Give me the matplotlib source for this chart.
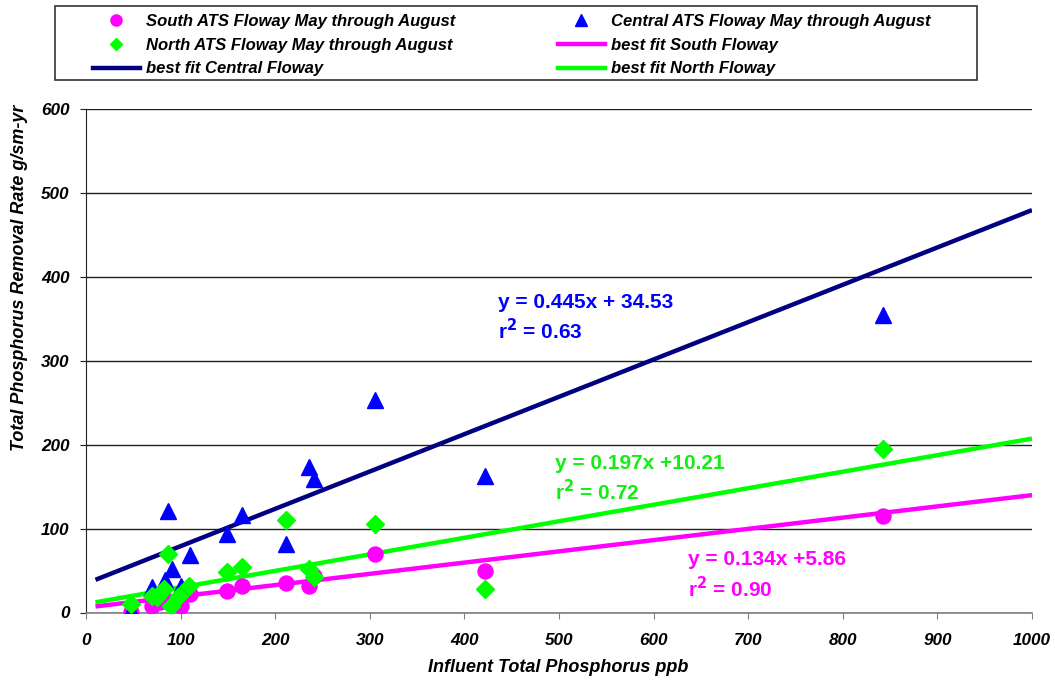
import matplotlib
matplotlib.use("Agg")
import matplotlib.pyplot as plt
from matplotlib.lines import Line2D
from matplotlib.patches import Rectangle
import numpy as np

plt.rcParams['font.family'] = ['Liberation Sans', 'DejaVu Sans']

# influent TP (ppb) vs TP removal rate (g/sm-yr), May through August
south_x = [48, 70, 78, 85, 100, 110, 149, 165, 211, 236, 241, 306, 422, 843]
south_y = [1, 8, 12, 15, 8, 22, 26, 32, 35, 31, 43, 70, 50, 115]

central_x = [48, 70, 83, 87, 91, 100, 110, 149, 165, 211, 236, 241, 306, 422, 843]
central_y = [3, 30, 39, 121, 52, 32, 68, 94, 116, 82, 173, 159, 253, 163, 355]

north_x = [48, 70, 75, 82, 87, 90, 98, 109, 149, 165, 211, 236, 241, 306, 422, 843]
north_y = [10, 20, 19, 28, 70, 8, 20, 32, 48, 54, 110, 52, 42, 106, 28, 195]

# trendlines (slope, intercept, r2)
fits = {
    'south': (0.134, 5.86, 0.90),
    'central': (0.445, 34.53, 0.63),
    'north': (0.197, 10.21, 0.72),
}
fit_range = [10, 1000]

MAG = '#FF00FF'
BLUE = '#0000FF'
GREEN = '#00FF00'
NAVY = '#000080'

W, H = 1055, 684
fig = plt.figure(figsize=(W / 100, H / 100), dpi=100)
ax = fig.add_axes([86 / W, 1 - 612.5 / H, (1032 - 86) / W, (612.5 - 109) / H])

fx = np.array(fit_range, dtype=float)
for key, col in [('south', MAG), ('central', NAVY), ('north', GREEN)]:
    m, b, _ = fits[key]
    ax.plot(fx, m * fx + b, color=col, lw=3.2, solid_capstyle='butt', zorder=3)

ax.plot(south_x, south_y, 'o', ms=10.8, color=MAG, mec=MAG, zorder=4)
ax.plot(central_x, central_y, '^', ms=11, color=BLUE, mec=BLUE, zorder=5)
ax.plot(north_x, north_y, 'D', ms=9.3, color=GREEN, mec=GREEN, zorder=6)

ax.set_xlim(0, 1000)
ax.set_ylim(0, 600)
ax.set_xticks(range(0, 1001, 100))
ax.set_yticks(range(0, 601, 100))
for s in ['top', 'right']:
    ax.spines[s].set_visible(False)
ax.spines['left'].set_color('#222222')
ax.spines['bottom'].set_color('#808080')
ax.spines['bottom'].set_linewidth(1.2)
ax.set_axisbelow(True)
ax.yaxis.grid(True, color='#222222', lw=1.0)
ax.tick_params(axis='x', direction='out', length=4, pad=11, colors='#808080',
               labelcolor='black')
ax.tick_params(axis='y', direction='out', length=4, pad=8, colors='#222222',
               labelcolor='black')
for lab in ax.get_xticklabels() + ax.get_yticklabels():
    lab.set_fontsize(12.3)
    lab.set_fontweight('bold')
    lab.set_fontstyle('italic')

fig.text(558 / W, 1 - 668 / H, 'Influent Total Phosphorus ppb', ha='center', va='center',
         fontsize=13, fontweight='bold', fontstyle='italic')
fig.text(20 / W, 1 - 278 / H, 'Total Phosphorus Removal Rate g/sm-yr', ha='center',
         va='center', rotation=90, fontsize=13, fontweight='bold', fontstyle='italic')

# equation labels
eq_pos = {
    'central': (435, 370, 336, BLUE, '{:.3f}x + {:.2f}'),
    'north': (496, 177, 144, '#11EE11', '{:.3f}x +{:.2f}'),
    'south': (636, 63, 29, MAG, '{:.3f}x +{:.2f}'),
}
for key, (tx, ty1, ty2, col, fmt) in eq_pos.items():
    m, b, r2 = fits[key]
    ax.text(tx, ty1, 'y = ' + fmt.format(m, b), color=col, fontsize=15,
            fontweight='bold', va='center', ha='left', zorder=7)
    ax.text(tx, ty2, r'r$^\mathbf{2}$ = ' + '{:.2f}'.format(r2), color=col, fontsize=15,
            fontweight='bold', va='center', ha='left', zorder=7)

# legend
handles = [
    Line2D([], [], ls='none', marker='o', ms=8, color=MAG),
    Line2D([], [], ls='none', marker='D', ms=6.5, color=GREEN),
    Line2D([], [], color=NAVY, lw=3.2),
    Line2D([], [], ls='none', marker='^', ms=8.5, color=BLUE),
    Line2D([], [], color=MAG, lw=3.2),
    Line2D([], [], color=GREEN, lw=3.2),
]
labels = [
    'South ATS Floway May through August',
    'North ATS Floway May through August',
    'best fit Central Floway',
    'Central ATS Floway May through August',
    'best fit South Floway',
    'best fit North Floway',
]
leg = fig.legend(handles, labels, loc='upper left', bbox_to_anchor=(93 / W, 1 - 14 / H),
                 ncol=2, frameon=False, borderpad=0, borderaxespad=0,
                 handlelength=2.8, handletextpad=0.35, columnspacing=6.2,
                 labelspacing=0.52,
                 prop={'size': 12, 'weight': 'bold', 'style': 'italic'})
fig.patches.append(Rectangle((55 / W, 1 - 80 / H), (977 - 55) / W, 74 / H,
                             transform=fig.transFigure, fill=False,
                             edgecolor='#333333', lw=1.2))

fig.savefig('out.png', dpi=100)
